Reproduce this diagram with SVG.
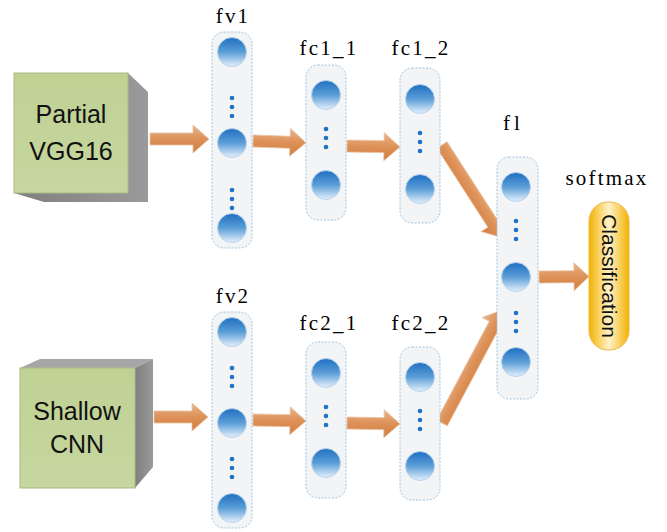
<svg xmlns="http://www.w3.org/2000/svg" width="667" height="532" viewBox="0 0 667 532">
<defs>
<linearGradient id="gBall" x1="0" y1="0" x2="0" y2="1">
<stop offset="0" stop-color="#1F6FC0"/>
<stop offset="0.5" stop-color="#5C9ED8"/>
<stop offset="1" stop-color="#E4F0FB"/>
</linearGradient>
<linearGradient id="gArrow" x1="0" y1="0" x2="0" y2="1">
<stop offset="0" stop-color="#E9B58C"/>
<stop offset="0.5" stop-color="#DD9158"/>
<stop offset="1" stop-color="#D27C3E"/>
</linearGradient>
<linearGradient id="gPill" x1="0" y1="0" x2="1" y2="0">
<stop offset="0" stop-color="#F2B200"/>
<stop offset="0.5" stop-color="#FFF2C8"/>
<stop offset="1" stop-color="#F2B200"/>
</linearGradient>
<linearGradient id="gFront" x1="0" y1="0" x2="0" y2="1">
<stop offset="0" stop-color="#BFD193"/>
<stop offset="1" stop-color="#C6D7A0"/>
</linearGradient>
<linearGradient id="gSide" x1="0" y1="0" x2="1" y2="0">
<stop offset="0" stop-color="#7F7F7F"/>
<stop offset="1" stop-color="#9A9A9A"/>
</linearGradient>
<g id="ball"><circle r="14.5" fill="url(#gBall)" stroke="#B9D4EE" stroke-width="1"/></g>
<g id="dots"><circle cx="0" cy="-9" r="2.3"/><circle cx="0" cy="0" r="2.3"/><circle cx="0" cy="9" r="2.3"/></g>
</defs>
<style>
.col{fill:#F3F4F6;stroke:#9FC3E2;stroke-width:1;stroke-dasharray:2 1.5}
.dt{fill:#1F73C6}
.lbl{font-family:"Liberation Serif","Times New Roman",serif;font-size:21px;letter-spacing:2.2px;font-variant-ligatures:none;font-feature-settings:"liga" 0;fill:#000;text-anchor:middle}
.big{font-family:"Liberation Sans",Arial,sans-serif;font-size:25px;fill:#111;text-anchor:middle}
.arr{fill:url(#gArrow);stroke:#EBC3A3;stroke-width:0.8}
.front{fill:url(#gFront);stroke:#A9B985;stroke-width:1}
.side{fill:url(#gSide)}
</style>
<rect width="667" height="532" fill="#FFFFFF"/>

<g id="partial-vgg16">
<polygon class="side" points="128,73 148,92 148,202 44,202 14,193 128,193"/>
<rect class="front" x="14" y="73" width="114" height="120"/>
<text class="big" x="71" y="123">Partial</text>
<text class="big" x="71" y="160">VGG16</text>
</g>

<g id="shallow-cnn">
<polygon points="20,368 40,359 153,359 135,368" fill="#A6A6A6"/>
<polygon class="side" points="135,368 153,359 153,467 135,488"/>
<rect class="front" x="20" y="368" width="115" height="120"/>
<text class="big" x="77" y="420">Shallow</text>
<text class="big" x="77" y="453">CNN</text>
</g>

<g id="connectors">
<path class="arr" transform="translate(150,139)" d="M0,-6 H43 V-14 L59,0 L43,14 V6 H0 Z"/>
<path class="arr" transform="translate(253,141) rotate(2)" d="M0,-6 H37 V-14 L53,0 L37,14 V6 H0 Z"/>
<path class="arr" transform="translate(347,146) rotate(1)" d="M0,-6 H37 V-14 L53,0 L37,14 V6 H0 Z"/>
<path class="arr" transform="translate(442,145) rotate(57.2)" d="M0,-6 H94 V-14 L110,0 L94,14 V6 H0 Z"/>
<path class="arr" transform="translate(154,417)" d="M0,-6 H38 V-14 L54,0 L38,14 V6 H0 Z"/>
<path class="arr" transform="translate(253,420) rotate(1)" d="M0,-6 H37 V-14 L53,0 L37,14 V6 H0 Z"/>
<path class="arr" transform="translate(347,423) rotate(1)" d="M0,-6 H37 V-14 L53,0 L37,14 V6 H0 Z"/>
<path class="arr" transform="translate(442,423) rotate(-62)" d="M0,-6 H112 V-14 L128,0 L112,14 V6 H0 Z"/>
<path class="arr" transform="translate(539,277) rotate(-0.5)" d="M0,-6 H35 V-14 L50,0 L35,14 V6 H0 Z"/>
</g>

<g id="fv1">
<text class="lbl" x="233" y="23">fv1</text>
<rect class="col" x="212" y="32" width="40" height="216" rx="12"/>
<use href="#ball" x="232" y="52"/>
<use href="#dots" x="232" y="107" class="dt"/>
<use href="#ball" x="232" y="143"/>
<use href="#dots" x="232" y="199" class="dt"/>
<use href="#ball" x="232" y="228"/>
</g>

<g id="fc1_1">
<text class="lbl" x="329" y="55">fc1_1</text>
<rect class="col" x="306" y="65" width="40" height="155" rx="12"/>
<use href="#ball" x="326" y="95"/>
<use href="#dots" x="326" y="138" class="dt"/>
<use href="#ball" x="326" y="185"/>
</g>

<g id="fc1_2">
<text class="lbl" x="421" y="55">fc1_2</text>
<rect class="col" x="400" y="68" width="40" height="155" rx="12"/>
<use href="#ball" x="420" y="99"/>
<use href="#dots" x="420" y="142" class="dt"/>
<use href="#ball" x="420" y="189"/>
</g>

<g id="fv2">
<text class="lbl" x="233" y="303">fv2</text>
<rect class="col" x="212" y="312" width="40" height="216" rx="12"/>
<use href="#ball" x="232" y="332"/>
<use href="#dots" x="232" y="377" class="dt"/>
<use href="#ball" x="232" y="423"/>
<use href="#dots" x="232" y="468" class="dt"/>
<use href="#ball" x="232" y="508"/>
</g>

<g id="fc2_1">
<text class="lbl" x="329" y="330">fc2_1</text>
<rect class="col" x="306" y="342" width="40" height="156" rx="12"/>
<use href="#ball" x="326" y="373"/>
<use href="#dots" x="326" y="416" class="dt"/>
<use href="#ball" x="326" y="463"/>
</g>

<g id="fc2_2">
<text class="lbl" x="421" y="330">fc2_2</text>
<rect class="col" x="400" y="347" width="40" height="153" rx="12"/>
<use href="#ball" x="420" y="377"/>
<use href="#dots" x="420" y="420" class="dt"/>
<use href="#ball" x="420" y="466"/>
</g>

<g id="fl">
<text class="lbl" y="130" style="text-anchor:start"><tspan x="503">f</tspan><tspan x="514">l</tspan></text>
<rect class="col" x="497" y="157" width="41" height="242" rx="12"/>
<use href="#ball" x="516" y="187"/>
<use href="#dots" x="516" y="230" class="dt"/>
<use href="#ball" x="516" y="277"/>
<use href="#dots" x="516" y="322" class="dt"/>
<use href="#ball" x="516" y="362"/>
</g>

<g id="classification">
<text class="lbl" x="607" y="185">softmax</text>
<rect x="589" y="202" width="40" height="148" rx="19" fill="url(#gPill)" stroke="#E9B84A" stroke-width="1"/>
<text transform="translate(602,276) rotate(90)" font-family="Liberation Sans, Arial, sans-serif" font-size="21" fill="#111" text-anchor="middle">Classification</text>
</g>
</svg>
